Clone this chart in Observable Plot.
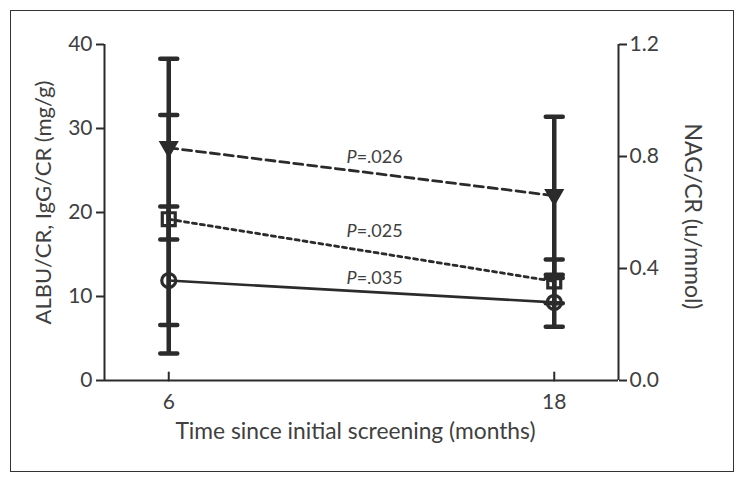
<!DOCTYPE html>
<html><head><meta charset="utf-8">
<script src="https://cdn.jsdelivr.net/npm/d3@7"></script>
<script src="https://cdn.jsdelivr.net/npm/@observablehq/plot@0.6"></script>
<style>
body{margin:0;background:#fff;}
#wrap{position:relative;width:744px;height:482px;}
#wrap svg{position:absolute;left:0;top:0;}
#frame{position:absolute;left:10px;top:10px;width:724px;height:462px;border:1.5px solid #333;box-sizing:border-box;pointer-events:none;}
</style></head><body><div id="wrap"><div id="frame"></div></div>
<script>
// ---- data (left-axis units, mg/g) ----
const months = [6, 18];
const xDomain = [4, 20];
const yDomain = [0, 40];
const leftTicks = [0, 10, 20, 30, 40];
const rightTicks = [0.0, 0.4, 0.8, 1.2];
const circleMean = [11.9, 9.3];
const circleLo = [3.2, 6.4];
const circleHi = [20.7, 12.2];
const squareMean = [19.2, 11.8];
const squareLo = [6.6, 9.2];
const squareHi = [31.6, 14.4];
const triangleMean = [27.7, 22.0];
const triangleLo = [16.8, 12.6];
const triangleHi = [38.3, 31.4];
const pLabels = ["=.026", "=.025", "=.035"];
const pLabelX = [11.85, 11.85, 11.85];
const pLabelY = [26.55, 17.74, 12.14];
const leftTitle = "ALBU/CR, IgG/CR (mg/g)";
const rightTitle = "NAG/CR (u/mmol)";
const xTitle = "Time since initial screening (months)";

// ---- derived tables ----
const k = yDomain[1] / rightTicks[rightTicks.length - 1];
const series = [
  {name: "circle", mean: circleMean, lo: circleLo, hi: circleHi},
  {name: "square", mean: squareMean, lo: squareLo, hi: squareHi},
  {name: "triangle", mean: triangleMean, lo: triangleLo, hi: triangleHi}
];
const rows = series.flatMap(s => months.map((m, i) => ({series: s.name, x: m, y: s.mean[i], lo: s.lo[i], hi: s.hi[i]})));
const caps = rows.flatMap(r => [{x: r.x, y: r.lo}, {x: r.x, y: r.hi}]);
const pRows = pLabels.map((t, i) => ({t, x: pLabelX[i], y: pLabelY[i]}));
const bySeries = n => rows.filter(r => r.series === n);

const ink = "#2b2b2b";
const txt = "#404040";
const lineShape = {draw(context, l) { context.moveTo(0, 0); context.lineTo(0, -l); }};
const downTriangle = {draw(context, size) {
  const r = Math.sqrt(size / Math.PI);
  context.moveTo(-r * 1.1, -r * 0.75);
  context.lineTo(r * 1.1, -r * 0.75);
  context.lineTo(0, r * 1.15);
  context.closePath();
}};

const chart = Plot.plot({
  width: 744,
  height: 482,
  marginLeft: 104,
  marginRight: 126,
  marginTop: 44,
  marginBottom: 102,
  style: {fontFamily: "Lato, 'Open Sans', sans-serif", color: txt, background: "transparent"},
  x: {domain: xDomain},
  y: {domain: yDomain},
  marks: [
    // axis lines
    Plot.ruleX(xDomain, {y1: yDomain[0], y2: yDomain[1], stroke: ink, strokeWidth: 2}),
    Plot.ruleY([yDomain[0]], {x1: xDomain[0], x2: xDomain[1], stroke: ink, strokeWidth: 2}),
    Plot.axisY(leftTicks, {anchor: "left", tickSize: 8, tickPadding: 4, fontSize: 21, label: null, stroke: ink, strokeWidth: 2}),
    Plot.axisY(rightTicks.map(v => v * k), {anchor: "right", tickSize: 8, tickPadding: 3, fontSize: 21, label: null,
      tickFormat: d => (d / k).toFixed(1), stroke: ink, strokeWidth: 2}),
    Plot.axisX(months, {tickSize: 0, tickPadding: 14, fontSize: 21, label: null}),
    Plot.vector(months, {x: d => d, y: () => yDomain[0], length: 8, anchor: "start", shape: lineShape, stroke: ink, strokeWidth: 2}),
    // titles
    Plot.text([leftTitle], {frameAnchor: "left", textAnchor: "middle", rotate: -90, dx: -61, dy: -10, fontSize: 22, fill: txt}),
    Plot.text([rightTitle], {frameAnchor: "right", textAnchor: "middle", rotate: 90, dx: 74, dy: 4, fontSize: 23, fill: txt}),
    Plot.text([xTitle], {frameAnchor: "bottom", dx: -6, dy: 58, fontSize: 22.8, fill: txt}),
    // series lines
    Plot.line(bySeries("triangle"), {x: "x", y: "y", stroke: ink, strokeWidth: 2.8, strokeDasharray: "9,5"}),
    Plot.line(bySeries("square"), {x: "x", y: "y", stroke: ink, strokeWidth: 2.8, strokeDasharray: "4,4"}),
    Plot.line(bySeries("circle"), {x: "x", y: "y", stroke: ink, strokeWidth: 2.6}),
    // error bars
    Plot.ruleX(rows, {x: "x", y1: "lo", y2: "hi", stroke: ink, strokeWidth: 4.5}),
    Plot.vector(caps, {x: "x", y: "y", length: 17, rotate: 90, anchor: "middle", shape: lineShape, stroke: ink, strokeWidth: 4.5, strokeLinecap: "round"}),
    // markers
    Plot.dot(bySeries("triangle"), {x: "x", y: "y", r: 7.6, symbol: downTriangle, fill: ink, stroke: ink, strokeWidth: 2}),
    Plot.dot(bySeries("square"), {x: "x", y: "y", r: 7.3, symbol: "square", fill: "none", stroke: ink, strokeWidth: 3.2}),
    Plot.dot(bySeries("circle"), {x: "x", y: "y", r: 7, symbol: "circle", fill: "none", stroke: ink, strokeWidth: 3.2}),
    // P values
    Plot.text(pRows, {x: "x", y: "y", text: () => "P", textAnchor: "end", fontStyle: "italic", fontSize: 18, fill: txt}),
    Plot.text(pRows, {x: "x", y: "y", text: "t", textAnchor: "start", fontSize: 18, fill: txt})
  ]
});
document.getElementById("wrap").prepend(chart);
</script>
</body></html>
